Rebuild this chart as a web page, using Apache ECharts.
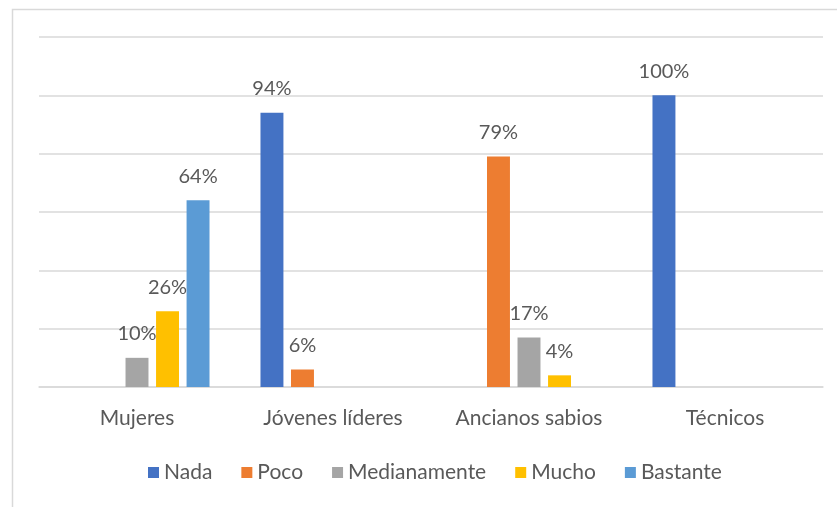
<!DOCTYPE html>
<html><head><meta charset="utf-8">
<script src="https://cdn.jsdelivr.net/npm/echarts@6/dist/echarts.min.js"></script>
<style>html,body{margin:0;padding:0;background:#fff}#c{width:837px;height:507px}</style>
</head><body><div id="c"></div>
<script>
const categories = ['Mujeres', 'Jóvenes líderes', 'Ancianos sabios', 'Técnicos'];
const seriesNames = ['Nada', 'Poco', 'Medianamente', 'Mucho', 'Bastante'];
const colors = ['#4472C4', '#ED7D31', '#A5A5A5', '#FFC000', '#5B9BD5'];
const nada = [null, 94, null, 100];
const poco = [null, 6, 79, null];
const medianamente = [10, null, 17, null];
const mucho = [26, null, 4, null];
const bastante = [64, null, null, null];
const values = [nada, poco, medianamente, mucho, bastante];
const yTicks = [0, 20, 40, 60, 80, 100, 120];

const FONT = 'Lato, "Open Sans", sans-serif';
const chart = echarts.init(document.getElementById('c'));
chart.setOption({
  animation: false,
  textStyle: { fontFamily: FONT },
  graphic: [{
    type: 'rect', left: 10, top: 7, silent: true,
    shape: { width: 900, height: 600 },
    style: { fill: 'none', stroke: '#d9d9d9', lineWidth: 1.5 }
  }],
  grid: { left: 39, right: 14, top: 37, bottom: 120, containLabel: false },
  legend: {
    top: 457, left: 143,
    itemWidth: 11, itemHeight: 11, itemGap: 29,
    icon: 'rect',
    textStyle: { color: '#595959', fontSize: 21, fontFamily: FONT },
    data: seriesNames
  },
  xAxis: {
    type: 'category', data: categories,
    axisTick: { show: false },
    axisLine: { lineStyle: { color: '#d9d9d9', width: 1.5 } },
    axisLabel: { color: '#595959', fontSize: 21, margin: 21, fontFamily: FONT }
  },
  yAxis: {
    type: 'value', min: yTicks[0], max: yTicks[yTicks.length - 1], interval: 20,
    axisLabel: { show: false }, axisLine: { show: false }, axisTick: { show: false },
    splitLine: { lineStyle: { color: '#d9d9d9', width: 1.5 } }
  },
  series: seriesNames.map((name, i) => ({
    name, type: 'bar', data: values[i],
    barCategoryGap: '26%', barGap: '33%',
    itemStyle: { color: colors[i] },
    label: {
      show: true, position: 'top', distance: 14,
      color: '#595959', fontSize: 20, fontFamily: FONT,
      formatter: p => p.value + '%'
    }
  }))
});
</script></body></html>
